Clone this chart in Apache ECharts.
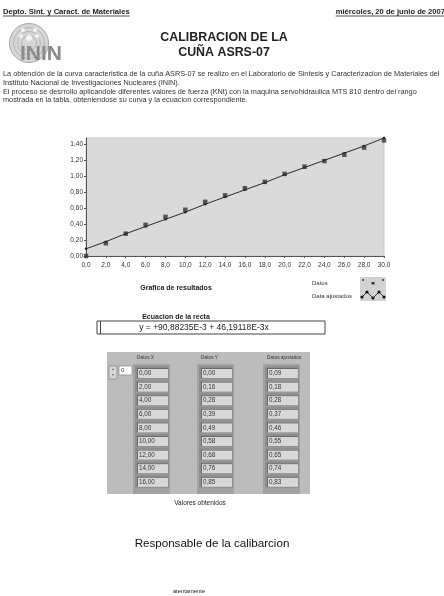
<!DOCTYPE html>
<html>
<head>
<meta charset="utf-8">
<script src="https://cdn.jsdelivr.net/npm/echarts@6/dist/echarts.min.js"></script>
<style>
  html, body { margin: 0; padding: 0; background: #fff; }
  #page { width: 444px; height: 596px; }
</style>
</head>
<body>
<div id="page"></div>
<script>
// Applied force steps (KNt) and measured / fitted response
const datosX = [0, 2, 4, 6, 8, 10, 12, 14, 16, 18, 20, 22, 24, 26, 28, 30];
const datosY = [0.00, 0.16, 0.28, 0.39, 0.49, 0.58, 0.68, 0.76, 0.85, 0.93, 1.03, 1.12, 1.19, 1.27, 1.36, 1.45];
const datosAjustados = [0.09, 0.18, 0.28, 0.37, 0.46, 0.55, 0.65, 0.74, 0.83, 0.92, 1.02, 1.11, 1.20, 1.29, 1.38, 1.48];

const xTicks = [0, 2, 4, 6, 8, 10, 12, 14, 16, 18, 20, 22, 24, 26, 28, 30];
const yTicks = [0.00, 0.20, 0.40, 0.60, 0.80, 1.00, 1.20, 1.40];

const encabezadoIzq = 'Depto. Sint. y Caract. de Materiales';
const encabezadoDer = 'miércoles, 20 de junio de 2007';
const titulo = ['CALIBRACION DE LA', 'CUÑA ASRS-07'];
const parrafo = [
  'La obtención de la curva caracteristica de la cuña ASRS-07 se realizo en el Laboratorio de Sintesis y Caracterizacion de Materiales del',
  'Instituto Nacional de Investigaciones Nucleares (ININ).',
  'El proceso se desrrollo aplicandole diferentes valores de fuerza (KNt) con la maquina servohidraulica MTS 810 dentro del rango',
  'mostrada en la tabla, obteniendose su curva y la ecuacion correspondiente.'
];
const ecuacion = 'y = +90,88235E-3 + 46,19118E-3x';
const encabezadosTabla = ['Datos X', 'Datos Y', 'Datos ajustados'];
const filasVisibles = 9;

const FONT = '"Liberation Sans", Arial, sans-serif';
const coma = (v, d) => v.toFixed(d).replace('.', ',');

const measureCtx = document.createElement('canvas').getContext('2d');
function textWidth(str, font) { measureCtx.font = font; return measureCtx.measureText(str).width; }

function txt(x, y, str, size, opts) {
  opts = opts || {};
  return {
    type: 'text', x: x, y: y, silent: true, z: opts.z || 10,
    style: {
      text: str, fontSize: size, fontFamily: FONT,
      fontWeight: opts.bold ? 'bold' : 'normal',
      fill: opts.color || '#222',
      align: opts.align || 'left', textAlign: opts.align || 'left',
      verticalAlign: 'middle', textVerticalAlign: 'middle'
    }
  };
}
function rect(x, y, w, h, fill, stroke, lw, z) {
  return { type: 'rect', silent: true, z: z || 5, shape: { x: x, y: y, width: w, height: h },
    style: { fill: fill || 'none', stroke: stroke || 'none', lineWidth: lw || 1 } };
}
function line(x1, y1, x2, y2, color, lw, z) {
  return { type: 'line', silent: true, z: z || 6, shape: { x1: x1, y1: y1, x2: x2, y2: y2 },
    style: { stroke: color, lineWidth: lw || 1 } };
}

const g = [];

// Page header, underlined
const hsize = 7.6;
const hfont = 'bold ' + hsize + 'px ' + FONT;
g.push(txt(3, 12, encabezadoIzq, hsize, { bold: true }));
g.push(line(3, 16, 3 + textWidth(encabezadoIzq, hfont), 16, '#222', 0.8));
g.push(txt(445, 12, encabezadoDer, hsize, { bold: true, align: 'right' }));
g.push(line(445 - textWidth(encabezadoDer, hfont), 16, 445, 16, '#222', 0.8));

// ININ logo
g.push({ type: 'circle', silent: true, z: 4, shape: { cx: 29, cy: 43, r: 19.5 }, style: { fill: '#d6d6d6', stroke: '#a8a8a8', lineWidth: 1 } });
[15.5, 11.5, 7.5].forEach(r => g.push({ type: 'circle', silent: true, z: 4, shape: { cx: 29, cy: 43, r: r }, style: { fill: 'none', stroke: '#b4b4b4', lineWidth: 1 } }));
g.push({ type: 'circle', silent: true, z: 5, shape: { cx: 29, cy: 38, r: 3 }, style: { fill: '#f4f4f4' } });
[[21, 36], [37, 36], [23, 30], [35, 30]].forEach(p => g.push({ type: 'circle', silent: true, z: 5, shape: { cx: p[0], cy: p[1], r: 2 }, style: { fill: '#f4f4f4' } }));
g.push(txt(20, 54, 'ININ', 21, { bold: true, color: '#8a8a8a', z: 6 }));

// Title
g.push(txt(224, 38, titulo[0], 12.4, { bold: true, align: 'center' }));
g.push(txt(224, 53, titulo[1], 12.4, { bold: true, align: 'center' }));

// Introductory paragraph
parrafo.forEach((l, i) => g.push(txt(3, 74 + i * 8.8, l, 7.3, { color: '#333' })));

// Chart caption and legend
g.push(txt(176, 288, 'Grafica de resultados', 7, { bold: true, align: 'center' }));
g.push(txt(312, 283, 'Datos', 6, { color: '#333' }));
g.push(txt(312, 296, 'Data ajustados', 6, { color: '#333' }));
g.push(rect(360, 277, 26, 24, '#d2d2d2', null, 1, 4));
[[363, 280], [383, 280]].forEach(p => g.push({ type: 'circle', silent: true, z: 6, shape: { cx: p[0], cy: p[1], r: 1 }, style: { fill: '#333' } }));
g.push(rect(371.5, 282, 3, 2.5, '#333', null, 1, 6));
g.push({ type: 'polyline', silent: true, z: 6, shape: { points: [[362, 297], [367, 292], [373, 298], [379, 292], [384, 297]] }, style: { stroke: '#333', lineWidth: 1, fill: 'none' } });
[[362, 297], [367, 292], [373, 298], [379, 292], [384, 297]].forEach(p => g.push({ type: 'circle', silent: true, z: 7, shape: { cx: p[0], cy: p[1], r: 1.6 }, style: { fill: '#111' } }));

// Fitted equation display
g.push(txt(176, 317, 'Ecuacion de la recta', 7, { bold: true, align: 'center' }));
g.push(rect(97, 321, 228, 13, '#fff', '#444', 1, 4));
g.push(line(100.5, 321, 100.5, 334, '#444', 1));
g.push(txt(204, 327.5, ecuacion, 8.5, { align: 'center', color: '#222' }));

// Data table panel
g.push(rect(107, 352, 203, 142, '#bcbcbc', null, 1, 2));
const colX = [137, 201, 267];
const cellW = 31, cellH = 10, rowPitch = 13.6, firstRow = 368;
encabezadosTabla.forEach((h, c) => g.push(txt(colX[c], 358, h, 4.8, { color: '#333' })));
// index control
g.push(rect(109, 366, 8, 13, '#d8d8d8', '#777', 0.6, 4));
g.push(txt(113, 369.5, '▲', 3, { align: 'center', color: '#444' }));
g.push(txt(113, 375.5, '▼', 3, { align: 'center', color: '#444' }));
g.push(rect(119, 366, 13, 9, '#fff', '#777', 0.6, 4));
g.push(txt(121, 370.5, '0', 6, { color: '#333' }));
const columnas = [
  datosX.slice(0, filasVisibles).map(v => coma(v, 2)),
  datosY.slice(0, filasVisibles).map(v => coma(v, 2)),
  datosAjustados.slice(0, filasVisibles).map(v => coma(v, 2))
];
columnas.forEach((vals, c) => {
  const x0 = colX[c];
  g.push(rect(x0 - 4, firstRow - 4, cellW + 6, 130, '#a2a2a2', null, 1, 3));
  vals.forEach((v, r) => {
    const y0 = firstRow + r * rowPitch;
    g.push(rect(x0 - 2, y0 - 2, cellW + 3, cellH + 3, '#8e8e8e', null, 1, 4));
    g.push(rect(x0, y0, cellW, cellH, '#d8d8d8', null, 1, 5));
    g.push(line(x0, y0 + 0.5, x0 + cellW, y0 + 0.5, '#6a6a6a', 1, 6));
    g.push(line(x0 + 0.5, y0, x0 + 0.5, y0 + cellH, '#6a6a6a', 1, 6));
    g.push(txt(x0 + 2, y0 + cellH / 2 + 0.5, v, 6.3, { color: '#333', z: 7 }));
  });
});
// white cut at the panel's lower edge
g.push(rect(107, 494, 203, 6, '#fff', null, 1, 8));

g.push(txt(200, 503, 'Valores obtenidos', 6.5, { align: 'center', color: '#222' }));
g.push(txt(212, 544, 'Responsable de la calibarcion', 11.6, { align: 'center', color: '#111' }));
g.push(txt(189, 591, 'atentamente', 5.8, { align: 'center', color: '#222' }));

const chart = echarts.init(document.getElementById('page'), null, { renderer: 'canvas', width: 444, height: 596 });
chart.setOption({
  animation: false,
  backgroundColor: '#fff',
  grid: { left: 86, top: 138, width: 298, height: 118, show: true, backgroundColor: '#dadada', borderColor: '#c6c6c6', borderWidth: 1 },
  xAxis: {
    type: 'value', min: 0, max: 30, interval: 2,
    axisLine: { show: true, lineStyle: { color: '#555', width: 1 } },
    axisTick: { show: true, length: 2, lineStyle: { color: '#555' } },
    splitLine: { show: false },
    axisLabel: { fontSize: 6.5, fontFamily: FONT, color: '#333', margin: 6,
      formatter: v => xTicks.indexOf(v) >= 0 ? coma(v, 1) : '' }
  },
  yAxis: {
    type: 'value', min: 0, max: 1.48, interval: 0.2,
    axisLine: { show: true, lineStyle: { color: '#555', width: 1 } },
    axisTick: { show: true, length: 2, lineStyle: { color: '#555' } },
    splitLine: { show: false },
    axisLabel: { fontSize: 6.5, fontFamily: FONT, color: '#333', margin: 3, showMaxLabel: false,
      formatter: v => yTicks.some(t => Math.abs(t - v) < 1e-6) ? coma(v, 2) : '' }
  },
  series: [
    {
      name: 'Data ajustados', type: 'line', data: datosX.map((x, i) => [x, datosAjustados[i]]),
      symbol: 'circle', symbolSize: 2.5, showSymbol: true,
      lineStyle: { color: '#2a2a2a', width: 1 }, itemStyle: { color: '#222' }, z: 2
    },
    {
      name: 'Datos', type: 'scatter', data: datosX.map((x, i) => [x, datosY[i]]),
      symbol: 'rect', symbolSize: [4.5, 4.5], itemStyle: { color: '#333' }, z: 3
    }
  ],
  graphic: { elements: g }
});
</script>
</body>
</html>
